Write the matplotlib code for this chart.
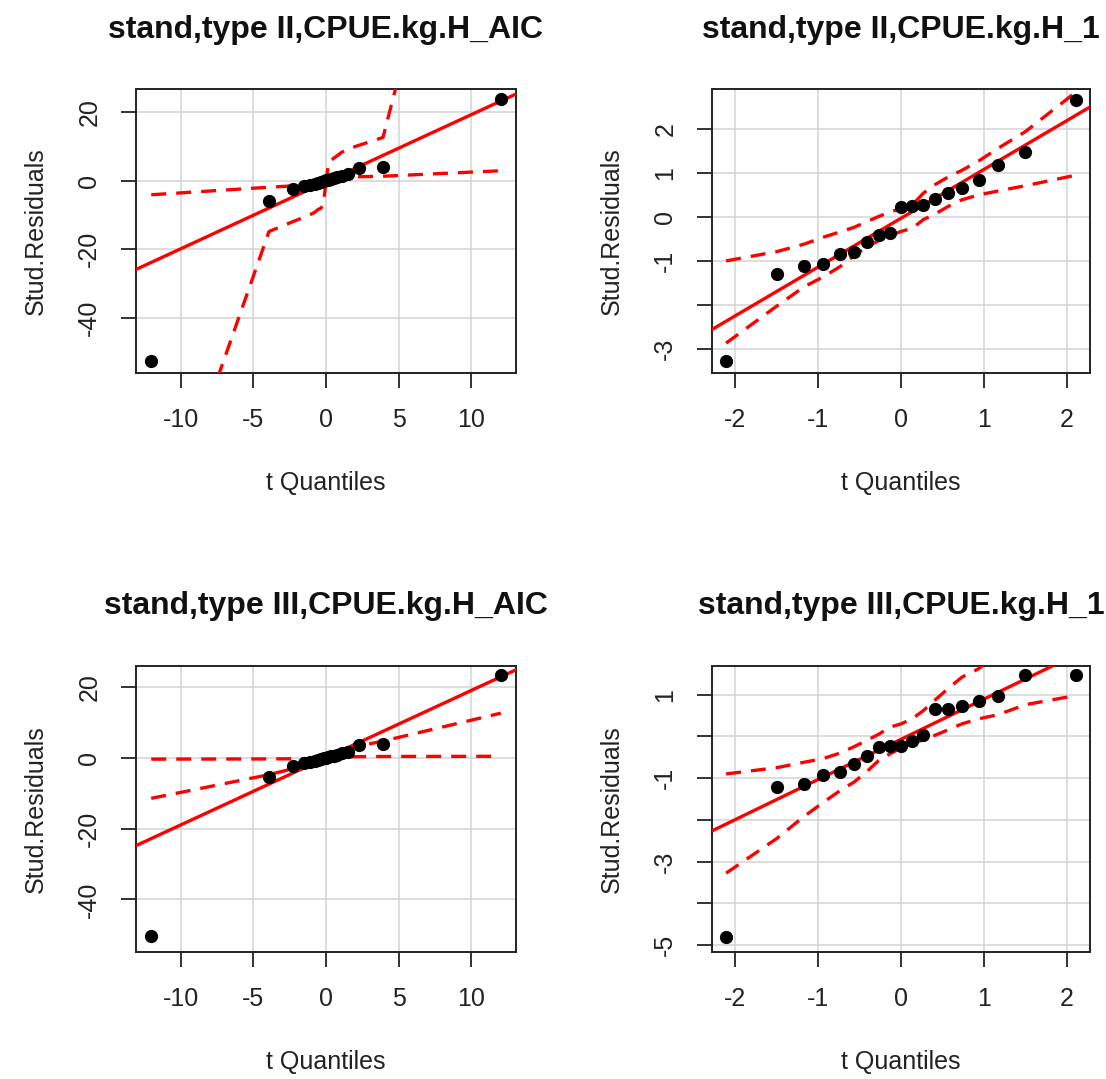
import numpy as np
import matplotlib
matplotlib.use("Agg")
import matplotlib.pyplot as plt

plt.rcParams['font.family'] = ['Liberation Sans', 'DejaVu Sans']

# t quantiles (x) for the two kinds of models
x_aic = [-12.05, -3.93, -2.27, -1.55, -1.09, -0.78, -0.55, -0.35, -0.17, 0.0,
         0.17, 0.35, 0.55, 0.78, 1.09, 1.55, 2.27, 3.93, 12.05]
x_one = [-2.11, -1.50, -1.17, -0.935, -0.735, -0.57, -0.415, -0.27, -0.135, 0.0,
         0.135, 0.27, 0.415, 0.57, 0.735, 0.935, 1.17, 1.50, 2.11]

# stand, type II, AIC
res_ii_aic = [-52.5, -6.0, -2.4, -1.6, -1.2, -0.9, -0.6, -0.3, -0.1, 0.1,
              0.3, 0.5, 0.8, 1.1, 1.4, 1.9, 3.8, 4.0, 23.8]
env1_ii_aic = [-4.1, -1.9, -1.5, -1.3, -1.2, -1.1, -1.0, -0.9, -0.8, -0.6,
               5.3, 5.9, 6.6, 7.3, 8.3, 9.3, 10.3, 12.6, 146.0]
env2_ii_aic = [-112.5, -14.8, -11.9, -10.7, -9.9, -9.2, -8.4, -8.0, -7.0, 0.3,
               0.9, 0.95, 1.0, 1.0, 1.05, 1.1, 1.15, 1.3, 2.9]
line_ii_aic = (1.95, -0.3)

# stand, type II, _1
res_ii_1 = [-3.27, -1.29, -1.10, -1.05, -0.84, -0.78, -0.57, -0.40, -0.36, 0.24,
            0.27, 0.29, 0.42, 0.55, 0.67, 0.85, 1.20, 1.49, 2.68]
env1_ii_1 = [-0.99, -0.78, -0.61, -0.45, -0.33, -0.23, -0.10, 0.02, 0.12, 0.20,
             0.28, 0.55, 0.75, 0.92, 1.07, 1.28, 1.57, 1.95, 2.85]
env2_ii_1 = [-2.86, -2.02, -1.58, -1.35, -1.12, -0.88, -0.67, -0.53, -0.42, -0.32,
             -0.25, -0.05, 0.08, 0.25, 0.40, 0.51, 0.60, 0.72, 0.96]
line_ii_1 = (1.11, -0.02)

# stand, type III, AIC
res_iii_aic = [-50.5, -5.5, -2.2, -1.5, -1.1, -0.8, -0.5, -0.3, -0.1, 0.1,
               0.3, 0.5, 0.7, 1.0, 1.3, 1.7, 3.8, 4.0, 23.6]
env1_iii_aic = [-11.4, -4.7, -3.0, -2.2, -1.6, -1.2, -0.9, -0.6, -0.3, 0.0,
                0.3, 0.6, 0.9, 1.3, 1.8, 2.5, 3.4, 4.8, 12.7]
env2_iii_aic = [-0.3, -0.25, -0.2, -0.2, -0.15, -0.1, -0.05, 0.0, 0.05, 0.1,
                0.15, 0.2, 0.25, 0.3, 0.3, 0.35, 0.4, 0.45, 0.5]
line_iii_aic = (1.90, 0.1)

# stand, type III, _1
res_iii_1 = [-4.80, -1.21, -1.14, -0.92, -0.86, -0.66, -0.48, -0.26, -0.23, -0.23,
             -0.12, 0.04, 0.66, 0.66, 0.72, 0.86, 0.96, 1.47, 1.47]
env1_iii_1 = [-0.90, -0.75, -0.62, -0.53, -0.40, -0.25, -0.10, 0.05, 0.22, 0.30,
              0.42, 0.62, 0.88, 1.15, 1.42, 1.62, 2.0, 2.5, 3.3]
env2_iii_1 = [-3.28, -2.45, -1.92, -1.58, -1.30, -1.10, -0.85, -0.58, -0.42, -0.28,
              -0.18, -0.08, 0.03, 0.16, 0.30, 0.42, 0.52, 0.76, 0.98]
line_iii_1 = (0.963, -0.07)

titles = ["stand,type II,CPUE.kg.H_AIC", "stand,type II,CPUE.kg.H_1",
          "stand,type III,CPUE.kg.H_AIC", "stand,type III,CPUE.kg.H_1"]

W, H = 1106, 1079
fig = plt.figure(figsize=(W / 100, H / 100), dpi=100)


def make_ax(l, r, t, b):
    return fig.add_axes([l / W, 1 - b / H, (r - l) / W, (b - t) / H])


panels = [
    dict(box=(136, 516, 89, 373), x=x_aic, y=res_ii_aic, e1=env1_ii_aic, e2=env2_ii_aic,
         line=line_ii_aic, xlim=(-13.1, 13.1), ylim=(-56.0, 26.7),
         xt=[-10, -5, 0, 5, 10], yt=[-40, -20, 0, 20], ytl=["-40", "-20", "0", "20"]),
    dict(box=(712, 1090, 89, 373), x=x_one, y=res_ii_1, e1=env1_ii_1, e2=env2_ii_1,
         line=line_ii_1, xlim=(-2.28, 2.28), ylim=(-3.54, 2.92),
         xt=[-2, -1, 0, 1, 2], yt=[-3, -2, -1, 0, 1, 2], ytl=["-3", "", "-1", "0", "1", "2"]),
    dict(box=(136, 516, 665.5, 952), x=x_aic, y=res_iii_aic, e1=env1_iii_aic, e2=env2_iii_aic,
         line=line_iii_aic, xlim=(-13.1, 13.1), ylim=(-54.9, 26.2),
         xt=[-10, -5, 0, 5, 10], yt=[-40, -20, 0, 20], ytl=["-40", "-20", "0", "20"]),
    dict(box=(712, 1090, 665.5, 952), x=x_one, y=res_iii_1, e1=env1_iii_1, e2=env2_iii_1,
         line=line_iii_1, xlim=(-2.28, 2.28), ylim=(-5.17, 1.70),
         xt=[-2, -1, 0, 1, 2], yt=[-5, -4, -3, -2, -1, 0, 1],
         ytl=["-5", "", "-3", "", "-1", "", "1"]),
]

red = '#ff0000'
for p, title in zip(panels, titles):
    ax = make_ax(*p['box'])
    ax.set_xlim(*p['xlim'])
    ax.set_ylim(*p['ylim'])
    ax.set_xticks(p['xt'])
    ax.set_xticklabels([str(v) for v in p['xt']])
    ax.set_yticks(p['yt'])
    ax.set_yticklabels(p['ytl'], rotation=90, va='center')
    ax.grid(True, color='#d3d3d3', linewidth=1.1, zorder=0)
    ax.set_axisbelow(True)

    xs = np.array(p['xlim'])
    slope, icpt = p['line']
    ax.plot(xs, slope * xs + icpt, color=red, lw=2.4, zorder=3)
    ax.plot(p['x'], p['e1'], color=red, lw=2.4, ls=(0, (4.5, 3)), zorder=3)
    ax.plot(p['x'], p['e2'], color=red, lw=2.4, ls=(0, (4.5, 3)), zorder=3)
    ax.plot(p['x'], p['y'], 'o', color='black', ms=8.5, zorder=4)

    ax.tick_params(direction='out', length=11, width=1.3, labelsize=18, pad=14,
                   colors='#222222')
    for s in ax.spines.values():
        s.set_linewidth(1.4)
        s.set_color('#222222')

    ax.set_title(title, fontsize=23, fontweight='bold', pad=37, color='#111111')
    ax.set_xlabel("t Quantiles", fontsize=18, color='#222222')
    ax.set_ylabel("Stud.Residuals", fontsize=18, color='#222222')
    hpx = p['box'][3] - p['box'][2]
    wpx = p['box'][1] - p['box'][0]
    ax.xaxis.set_label_coords(0.5, -110 / hpx)
    ax.xaxis.label.set_va('center')
    ax.yaxis.set_label_coords(-100 / wpx, 0.5)
    ax.yaxis.label.set_va('center')

fig.savefig("out.png", dpi=100, facecolor='white')
